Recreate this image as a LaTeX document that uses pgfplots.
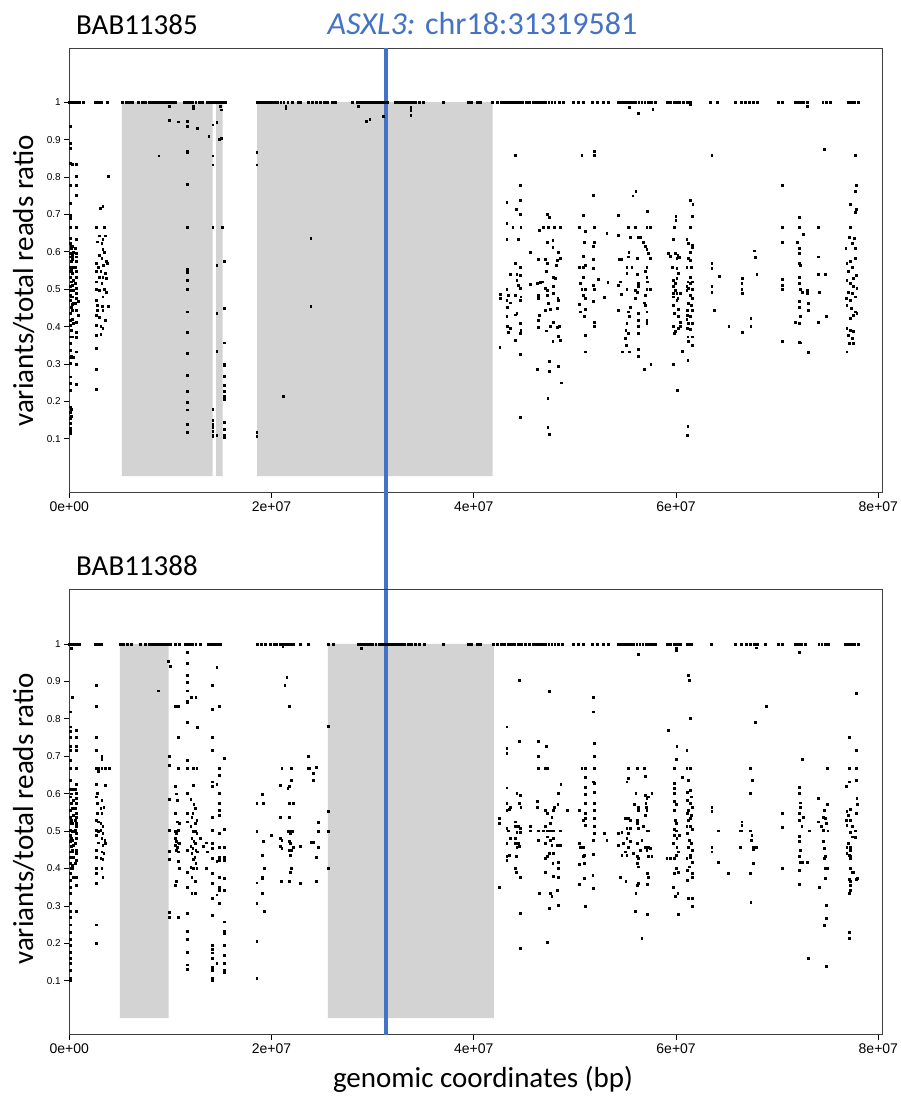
\documentclass[border=0pt]{standalone}
\usepackage{pgfplots}
\pgfplotsset{compat=1.18}
\usepackage{fontspec}
\setmainfont{Liberation Sans}
\newfontfamily\calib{Carlito}
\definecolor{graybox}{HTML}{D3D3D3}
\definecolor{asxl}{HTML}{4472C4}
\pgfplotsset{
  panel/.style={
    scale only axis, width=812.7pt,
    xmin=0, xmax=80.36, ymin=-0.044, ymax=1.145,
    xtick={0,20,40,60,80},
    xticklabels={0e+00,2e+07,4e+07,6e+07,8e+07},
    ytick={0.1,0.2,0.3,0.4,0.5,0.6,0.7,0.8,0.9,1},
    yticklabels={0.1,0.2,0.3,0.4,0.5,0.6,0.7,0.8,0.9,1},
    xtick pos=bottom, ytick pos=left,
    tick align=outside, major tick length=5pt,
    tick style={black, line width=0.7pt},
    axis line style={black!75, line width=0.9pt},
    xticklabel style={font=\fontsize{14}{16}\selectfont},
    yticklabel style={font=\fontsize{10}{12}\selectfont},
    clip marker paths=false,
  },
  pts/.style={only marks, mark=square*, mark size=0.95pt, black, mark options={draw=none, fill=black}},
  gbox/.style={fill=graybox, draw=none},
  vline/.style={asxl, line width=3.2pt},
}
\begin{document}
\begin{tikzpicture}
\path[use as bounding box] (0,0) rectangle (901pt,1103pt);
% ---------------- top panel BAB11385 ----------------
\begin{axis}[panel, height=444.7pt, at={(69.3pt,610.3pt)}, anchor=south west, clip=false]
\addplot[gbox] coordinates {(5.21,0) (5.21,1) (14.18,1) (14.18,0) (5.21,0)};
\addplot[gbox] coordinates {(14.51,0) (14.51,1) (15.17,1) (15.17,0) (14.51,0)};
\addplot[gbox] coordinates {(18.56,0) (18.56,1) (41.87,1) (41.87,0) (18.56,0)};
\addplot[pts] coordinates {
(0.0,1) (0.1,1) (0.2,1) (0.3,1) (0.45,1) (0.6,1) (0.8,1) (1.0,1) (1.35,1)
(2.55,1) (2.7,1) (2.85,1) (3.0,1) (3.2,1) (3.73,1)
(5.25,1) (5.6,1) (5.9,1) (6.2,1)
(6.8,1) (7.2,1) (7.5,1) (7.9,1) (8.2,1) (8.5,1) (8.8,1) (9.1,1) (9.3,1) (9.6,1) (9.9,1) (10.2,1) (10.5,1)
(11.4,1) (11.6,1) (11.8,1) (12.0,1) (12.2,1) (12.5,1) (12.8,1) (13.1,1)
(13.6,1) (13.9,1) (14.1,1) (14.3,1) (14.6,1) (14.9,1) (15.1,1) (15.4,1)
(18.6,1) (18.8,1) (19.0,1) (19.2,1) (19.5,1) (19.7,1) (19.9,1) (20.1,1) (20.3,1) (20.6,1) (20.9,1) (21.2,1) (21.6,1) (22.0,1)
(22.6,1) (22.8,1) (23.6,1) (24.0,1) (24.4,1) (24.8,1) (25.2,1) (25.5,1) (26.0,1) (26.3,1) (27.96,1)
(28.5,1) (28.8,1) (29.0,1) (29.2,1) (29.4,1) (29.6,1) (29.8,1) (30.0,1) (30.2,1) (30.4,1) (30.6,1) (30.9,1) (31.2,1) (31.4,1)
(32.2,1) (32.5,1) (32.8,1) (33.1,1) (33.4,1) (33.6,1) (33.9,1) (34.2,1) (34.6,1) (35.0,1) (36.95,1)
(39.4,1) (39.7,1) (40.3,1) (40.6,1)
(41.8,1) (42.3,1) (42.7,1) (43.0,1) (43.3,1) (43.6,1) (43.9,1) (44.2,1) (44.5,1) (44.8,1) (45.2,1) (45.5,1) (45.9,1) (46.2,1) (46.5,1) (46.8,1) (47.1,1) (47.4,1) (47.7,1) (48.0,1) (48.4,1) (48.8,1)
(49.8,1) (50.3,1) (50.8,1) (51.7,1) (52.2,1) (52.8,1) (53.3,1)
(54.3,1) (54.6,1) (54.9,1) (55.2,1) (55.4,1) (55.7,1) (56.0,1) (56.3,1) (56.6,1) (56.9,1) (57.2,1) (57.5,1) (57.9,1)
(59.1,1) (59.4,1) (59.8,1) (60.0,1) (60.3,1) (60.7,1) (61.1,1) (61.4,1)
(63.4,1) (64.1,1) (65.8,1) (66.4,1) (66.8,1) (67.2,1) (67.6,1) (68.0,1) (70.1,1) (70.5,1)
(71.8,1) (72.1,1) (72.4,1) (72.6,1) (72.95,1) (74.5,1) (74.8,1) (75.2,1) (77.0,1) (77.3,1) (77.6,1) (78.0,1)
(9.89,0.99) (12.26,0.99) (12.26,0.984) (21.4,0.99) (21.4,0.985) (28.58,0.99) (33.76,0.986) (33.76,0.979) (33.76,0.965)
(31.0,0.963) (29.4,0.95) (29.7,0.954) (55.35,0.987) (56.27,0.97) (57.69,0.981) (72.92,0.989) (61.38,0.995)
(0.05,0.935) (0.08,0.89) (0.05,0.877) (0.1,0.837) (0.05,0.779) (0.08,0.73) (0.05,0.698) (0.12,0.69) (0.05,0.667) (0.1,0.636)
(0.05,0.623) (0.15,0.614) (0.05,0.596) (0.1,0.587) (0.2,0.574) (0.05,0.56) (0.12,0.547) (0.05,0.533) (0.18,0.52) (0.08,0.507)
(0.05,0.498) (0.12,0.484) (0.05,0.471) (0.2,0.453) (0.05,0.435) (0.1,0.417) (0.05,0.404) (0.15,0.391) (0.05,0.373) (0.1,0.355)
(0.05,0.337) (0.08,0.319) (0.05,0.302) (0.1,0.266) (0.05,0.248) (0.08,0.23) (0.12,0.186) (0.05,0.172) (0.1,0.154) (0.05,0.141)
(0.08,0.128) (0.05,0.114) (0.25,0.59) (0.22,0.55) (0.28,0.51) (0.2,0.48) (0.3,0.46) (0.25,0.42) (0.15,0.32) (0.2,0.18) (0.15,0.16) (0.1,0.12)
(0.2,0.61) (0.3,0.58)
(0.33,0.835) (0.33,0.614) (0.35,0.599) (0.33,0.587) (0.38,0.56) (0.33,0.542) (0.36,0.525) (0.33,0.511) (0.4,0.498) (0.33,0.48)
(0.36,0.462) (0.33,0.444) (0.38,0.409) (0.33,0.373) (0.35,0.319)
(0.66,0.835) (0.66,0.801) (0.66,0.779) (0.66,0.751) (0.66,0.667) (0.66,0.634) (0.62,0.609) (0.66,0.596) (0.7,0.587) (0.66,0.574)
(0.62,0.56) (0.7,0.547) (0.66,0.533) (0.62,0.516) (0.68,0.502) (0.66,0.489) (0.7,0.475) (0.62,0.462) (0.66,0.444) (0.7,0.413)
(0.66,0.386) (0.68,0.371) (0.66,0.333) (0.66,0.3) (0.66,0.246) (0.89,0.467) (0.89,0.431)
(3.86,0.801) (3.03,0.716) (3.3,0.721) (2.64,0.667) (3.46,0.667) (2.93,0.643) (3.59,0.643) (3.3,0.634) (2.77,0.627) (3.2,0.623)
(3.3,0.607) (3.43,0.6) (2.97,0.591) (3.2,0.582) (3.63,0.574) (2.7,0.569) (2.87,0.56) (3.36,0.565) (3.76,0.569) (2.7,0.547)
(3.1,0.547) (3.53,0.544) (2.97,0.533) (3.3,0.533) (3.63,0.529) (2.64,0.52) (3.2,0.516) (2.7,0.5) (2.97,0.498) (3.43,0.5)
(3.63,0.493) (3.3,0.48) (2.77,0.458) (3.23,0.455) (2.77,0.444) (3.3,0.444) (3.89,0.455) (2.7,0.431) (2.64,0.404) (3.1,0.4)
(3.3,0.395) (2.64,0.376) (3.1,0.38) (2.7,0.342) (2.7,0.285) (2.7,0.232) (2.97,0.426) (3.53,0.417) (2.64,0.471)
(11.67,0.95) (11.67,0.935) (11.67,0.87) (11.67,0.865) (11.67,0.78) (11.67,0.667) (11.67,0.555) (11.67,0.55) (11.67,0.545) (11.67,0.525)
(11.67,0.5) (11.67,0.44) (11.67,0.385) (11.67,0.33) (11.67,0.27) (11.67,0.228) (11.67,0.198) (11.67,0.178) (11.67,0.14) (11.67,0.118)
(8.84,0.857) (9.89,0.953) (10.8,0.948) (12.66,0.93) (13.78,0.91)
(14.18,0.94) (14.18,0.857) (14.18,0.833) (14.18,0.667) (14.18,0.18) (14.18,0.15) (14.18,0.138) (14.18,0.13) (14.18,0.12) (14.18,0.11) (14.18,0.107)
(14.57,0.947) (14.57,0.565) (14.57,0.436) (14.57,0.335) (14.57,0.11)
(14.9,0.99) (15.0,0.98) (14.85,0.9) (15.0,0.905) (15.1,0.667) (15.33,0.575)
(15.33,0.45) (15.33,0.357) (15.33,0.3) (15.33,0.296) (15.33,0.267) (15.33,0.243) (15.33,0.228) (15.33,0.215) (15.33,0.205) (15.33,0.145)
(15.33,0.125) (15.33,0.11) (15.33,0.105)
(18.53,0.867) (18.53,0.833) (18.53,0.117) (18.53,0.107) (23.87,0.636) (23.87,0.455) (21.13,0.213)
(44.07,0.858) (44.57,0.778) (43.25,0.732) (44.57,0.738) (44.17,0.714) (44.57,0.700) (43.25,0.676) (43.84,0.667) (44.63,0.667) (43.25,0.634)
(44.40,0.634) (44.07,0.569) (44.57,0.560) (43.58,0.541) (44.24,0.541) (44.57,0.538) (44.24,0.524) (44.40,0.511) (44.57,0.502) (43.25,0.500)
(44.07,0.485) (42.59,0.487) (43.42,0.485) (42.59,0.476) (43.25,0.471) (43.58,0.464) (43.32,0.453) (43.25,0.428) (44.07,0.432) (44.24,0.436)
(44.57,0.409) (44.63,0.480) (44.57,0.471) (43.32,0.400) (43.58,0.397) (43.42,0.384) (44.07,0.364) (44.57,0.382) (44.63,0.391) (42.56,0.344)
(44.57,0.327) (44.57,0.158)
(47.21,0.700) (47.47,0.692) (46.48,0.658) (46.88,0.667) (47.37,0.667) (47.93,0.667) (48.52,0.667) (47.21,0.625) (47.80,0.631) (47.80,0.612)
(48.36,0.600) (45.56,0.600) (46.38,0.580) (47.04,0.580) (47.21,0.569) (48.52,0.584) (48.13,0.565) (48.20,0.578) (47.14,0.547) (47.87,0.532)
(48.03,0.529) (45.56,0.514) (46.28,0.517) (46.81,0.520) (47.04,0.502) (47.21,0.498) (47.87,0.509) (46.38,0.485) (47.21,0.485) (48.29,0.477)
(47.87,0.489) (46.38,0.476) (47.37,0.462) (47.04,0.444) (47.54,0.446) (48.20,0.449) (48.36,0.471) (46.48,0.431) (46.38,0.416) (46.38,0.398)
(47.14,0.389) (47.54,0.400) (47.87,0.413) (48.20,0.398) (48.46,0.400) (47.80,0.360) (48.52,0.364) (48.36,0.375) (46.31,0.286) (47.47,0.308)
(47.47,0.282) (48.36,0.295) (48.62,0.250) (47.30,0.209) (47.30,0.130) (47.47,0.112) (46.55,0.518)
(50.67,0.858) (51.92,0.870) (51.92,0.858) (51.82,0.752) (50.83,0.698) (50.44,0.667) (51.92,0.667) (51.0,0.654) (53.14,0.649) (50.93,0.625)
(51.92,0.625) (51.82,0.615) (50.83,0.589) (51.0,0.565) (50.83,0.560) (51.82,0.580) (51.82,0.556) (50.44,0.560) (52.32,0.526) (50.83,0.532)
(50.50,0.516) (50.67,0.500) (51.0,0.500) (51.82,0.511) (51.89,0.500) (53.24,0.518) (50.83,0.485) (51.0,0.476) (50.44,0.460) (51.0,0.446)
(50.50,0.440) (51.82,0.467) (50.93,0.427) (51.89,0.413) (51.89,0.400) (51.0,0.378) (51.0,0.333) (52.88,0.478)
(54.29,0.698) (55.71,0.750) (56.01,0.762) (57.16,0.709) (55.28,0.667) (55.94,0.667) (57.09,0.667) (57.42,0.667) (54.29,0.645) (55.45,0.638)
(56.27,0.638) (56.50,0.638) (56.77,0.625) (56.93,0.615) (57.09,0.606) (57.26,0.596) (55.31,0.600) (55.28,0.587) (56.11,0.584) (57.42,0.584)
(54.62,0.580) (54.39,0.580) (55.12,0.560) (55.61,0.560) (55.12,0.542) (56.11,0.541) (57.09,0.560) (56.93,0.547) (57.09,0.533) (54.46,0.520)
(54.29,0.511) (55.12,0.500) (55.94,0.498) (56.27,0.507) (57.09,0.500) (57.42,0.500) (56.93,0.485) (54.56,0.487) (56.11,0.491) (56.21,0.516)
(57.16,0.520) (55.94,0.476) (54.29,0.444) (55.45,0.453) (55.28,0.440) (55.35,0.427) (55.12,0.409) (56.21,0.436) (56.27,0.418) (56.27,0.400)
(56.27,0.382) (56.83,0.464) (56.93,0.458) (57.09,0.440) (57.09,0.418) (57.09,0.409) (55.02,0.391) (55.28,0.382) (54.95,0.369) (55.05,0.351)
(54.69,0.333) (55.35,0.333) (56.21,0.339) (56.27,0.322) (56.83,0.286) (57.49,0.300)
(59.96,0.696) (59.96,0.685) (59.80,0.667) (59.73,0.634) (61.38,0.738) (61.64,0.728) (61.55,0.696) (61.38,0.667) (61.05,0.634) (61.22,0.622)
(61.55,0.618) (61.55,0.612) (59.24,0.596) (59.40,0.589) (59.90,0.596) (60.16,0.592) (60.06,0.582) (60.29,0.585) (61.38,0.600) (61.22,0.582)
(59.57,0.560) (60.06,0.556) (60.23,0.542) (60.06,0.529) (61.05,0.560) (61.38,0.578) (61.45,0.560) (61.38,0.533) (61.15,0.520) (61.55,0.520)
(59.73,0.509) (59.90,0.498) (60.06,0.489) (61.05,0.509) (61.22,0.502) (61.55,0.500) (59.73,0.480) (60.16,0.476) (61.38,0.485) (61.55,0.477)
(59.67,0.525) (59.90,0.516) (59.67,0.489) (60.39,0.489) (60.06,0.471) (59.73,0.458) (60.23,0.446) (59.80,0.436) (60.23,0.427) (59.73,0.400)
(59.90,0.387) (60.39,0.400) (60.39,0.413) (60.23,0.396) (59.80,0.382) (61.38,0.516) (61.05,0.498) (61.22,0.462) (61.45,0.458) (61.12,0.444)
(61.55,0.444) (61.12,0.431) (61.38,0.428) (61.05,0.420) (61.22,0.409) (61.55,0.409) (61.38,0.393) (61.12,0.396) (61.15,0.373) (61.55,0.373)
(61.22,0.360) (61.58,0.351) (60.56,0.335) (61.15,0.311) (59.73,0.300) (60.13,0.231) (61.15,0.133) (61.08,0.109)
(63.52,0.858) (63.52,0.569) (63.52,0.556) (64.25,0.536) (63.52,0.507) (63.52,0.493) (63.75,0.444)
(67.74,0.603) (67.84,0.585) (67.97,0.541) (66.52,0.529) (66.49,0.516) (66.49,0.500) (66.56,0.489) (67.38,0.422) (67.38,0.400) (66.56,0.385) (65.2,0.400)
(70.45,0.778) (70.45,0.667) (70.45,0.625) (72.19,0.692) (72.19,0.667) (72.59,0.646) (71.93,0.625) (72.19,0.609) (72.19,0.596) (72.19,0.569)
(72.26,0.565) (72.19,0.533) (72.19,0.516) (72.26,0.500) (72.49,0.493) (72.98,0.498) (72.98,0.489) (70.51,0.526) (70.51,0.511) (70.51,0.500)
(72.19,0.467) (72.19,0.453) (73.08,0.462) (73.02,0.443) (72.26,0.428) (72.19,0.409) (71.76,0.411) (72.19,0.358) (72.32,0.357) (73.02,0.331) (70.45,0.360)
(74.63,0.874) (74.07,0.667) (74.07,0.587) (74.07,0.541) (74.73,0.541) (74.17,0.493) (74.07,0.411) (74.83,0.428)
(77.70,0.858) (77.80,0.778) (77.70,0.762) (77.20,0.728) (77.80,0.713) (77.70,0.705) (77.20,0.667) (77.14,0.638) (77.63,0.636) (77.37,0.622)
(77.70,0.609) (76.77,0.609) (77.20,0.574) (77.70,0.582) (76.87,0.569) (77.37,0.560) (77.04,0.547) (77.80,0.538) (77.53,0.529) (76.87,0.524)
(77.20,0.516) (77.53,0.507) (77.86,0.502) (77.04,0.493) (77.37,0.489) (77.70,0.480) (76.81,0.476) (77.20,0.471) (76.87,0.458) (77.30,0.449)
(77.70,0.440) (77.86,0.436) (77.20,0.422) (77.53,0.431) (76.87,0.396) (77.20,0.391) (77.53,0.387) (77.04,0.378) (77.37,0.369) (77.14,0.355)
(77.53,0.355) (76.87,0.333)
};
\addplot[vline] coordinates {(31.32,-0.303) (31.32,1.145)};
\end{axis}
% ---------------- bottom panel BAB11388 ----------------
\begin{axis}[panel, height=445pt, at={(69.3pt,68.3pt)}, anchor=south west, clip=false]
\addplot[gbox] coordinates {(5.01,0) (5.01,1) (9.83,1) (9.83,0) (5.01,0)};
\addplot[gbox] coordinates {(25.58,0) (25.58,1) (41.97,1) (41.97,0) (25.58,0)};
\addplot[pts] coordinates {
(0.0,1) (0.15,1) (0.3,1) (0.5,1) (0.7,1) (1.0,1) (2.55,1) (2.75,1) (2.95,1) (3.15,1)
(5.0,1) (5.3,1) (5.7,1) (6.1,1) (7.0,1) (7.5,1) (7.9,1) (8.2,1) (8.5,1) (8.8,1) (9.1,1) (9.4,1) (9.7,1) (9.95,1)
(10.5,1) (10.9,1) (11.5,1) (11.8,1) (12.0,1) (12.2,1) (12.5,1) (12.9,1) (13.7,1) (14.0,1) (14.3,1) (14.6,1) (14.9,1)
(18.6,1) (19.0,1) (19.4,1) (19.9,1) (20.3,1) (20.5,1) (20.8,1) (21.0,1) (21.2,1) (21.4,1) (21.6,1) (21.8,1) (22.1,1)
(22.8,1) (23.6,1) (25.6,1) (26.1,1)
(28.6,1) (28.8,1) (29.0,1) (29.2,1) (29.4,1) (29.6,1) (29.8,1) (30.0,1) (30.3,1) (30.6,1) (30.9,1) (31.2,1) (31.4,1)
(31.6,1) (31.9,1) (32.2,1) (32.5,1) (32.8,1) (33.1,1) (33.5,1) (33.8,1) (34.2,1) (34.6,1) (35.1,1) (36.95,1)
(39.4,1) (39.7,1) (40.3,1) (40.6,1)
(41.9,1) (42.3,1) (42.7,1) (43.0,1) (43.4,1) (43.7,1) (44.0,1) (44.4,1) (44.7,1) (45.1,1) (45.5,1) (45.9,1) (46.2,1) (46.5,1) (46.8,1) (47.1,1) (47.4,1) (47.7,1) (48.0,1) (48.3,1) (48.7,1)
(49.8,1) (50.3,1) (50.8,1) (51.7,1) (52.2,1) (52.8,1) (53.3,1)
(54.3,1) (54.6,1) (54.9,1) (55.2,1) (55.5,1) (55.8,1) (56.1,1) (56.4,1) (56.7,1) (57.0,1) (57.3,1) (57.6,1) (57.9,1)
(59.1,1) (59.4,1) (59.8,1) (60.1,1) (60.4,1) (61.1,1) (61.3,1) (61.5,1) (63.5,1)
(65.8,1) (66.4,1) (66.9,1) (67.3,1) (67.7,1) (68.0,1) (68.8,1) (70.1,1) (70.5,1)
(71.8,1) (72.1,1) (72.4,1) (72.75,1) (74.1,1) (74.4,1) (74.7,1) (75.0,1) (76.7,1) (77.0,1) (77.3,1) (77.6,1) (78.0,1)
(0.2,0.988) (28.9,0.988) (21.1,0.993) (67.9,0.99)
(0.26,0.857) (0.05,0.819) (0.08,0.779) (0.05,0.766) (0.1,0.752) (0.05,0.727) (0.08,0.715) (0.05,0.69) (0.12,0.668) (0.05,0.636)
(0.1,0.611) (0.05,0.592) (0.15,0.574) (0.05,0.556) (0.1,0.538) (0.2,0.52) (0.05,0.503) (0.12,0.489) (0.05,0.474) (0.18,0.46)
(0.05,0.445) (0.1,0.431) (0.05,0.414) (0.15,0.4) (0.05,0.387) (0.1,0.369) (0.05,0.351) (0.08,0.333) (0.05,0.307) (0.1,0.286)
(0.05,0.269) (0.08,0.25) (0.05,0.231) (0.1,0.21) (0.05,0.195) (0.08,0.177) (0.05,0.16) (0.1,0.146) (0.05,0.128) (0.08,0.108) (0.05,0.102)
(0.22,0.6) (0.25,0.56) (0.2,0.53) (0.28,0.5) (0.22,0.48) (0.3,0.45) (0.25,0.41)
(0.66,0.77) (0.66,0.75) (0.66,0.727) (0.66,0.715) (0.66,0.668) (0.66,0.626) (0.62,0.611) (0.66,0.601) (0.7,0.587) (0.66,0.574)
(0.62,0.561) (0.7,0.547) (0.66,0.538) (0.62,0.529) (0.7,0.52) (0.66,0.512) (0.62,0.503) (0.7,0.494) (0.66,0.48) (0.62,0.467)
(0.66,0.449) (0.7,0.44) (0.66,0.422) (0.62,0.414) (0.66,0.378) (0.66,0.356) (0.66,0.286)
(0.33,0.611) (0.35,0.583) (0.33,0.561) (0.38,0.543) (0.33,0.52) (0.36,0.5) (0.33,0.476) (0.38,0.462) (0.33,0.445) (0.36,0.431) (0.33,0.4) (0.35,0.378)
(2.64,0.889) (2.64,0.834) (2.64,0.75) (2.64,0.715) (3.2,0.701) (3.2,0.692) (2.64,0.668) (2.87,0.668) (3.2,0.668) (3.53,0.668)
(3.92,0.668) (2.9,0.659) (2.64,0.626) (3.59,0.623) (2.75,0.601) (2.64,0.592) (2.75,0.574) (3.2,0.583) (3.4,0.565) (3.1,0.561)
(2.75,0.547) (3.2,0.547) (2.64,0.529) (2.9,0.525) (3.1,0.52) (3.3,0.512) (2.64,0.503) (2.87,0.5) (3.1,0.503) (3.3,0.494)
(2.64,0.489) (3.2,0.48) (3.5,0.476) (2.87,0.469) (3.3,0.462) (3.59,0.467) (2.64,0.449) (3.2,0.445) (3.4,0.44) (2.64,0.431)
(3.1,0.427) (3.3,0.424) (2.64,0.4) (3.2,0.4) (2.64,0.387) (3.3,0.378) (2.64,0.36) (2.64,0.25) (2.64,0.2)
(8.83,0.875) (9.75,0.955) (9.95,0.94)
(9.89,0.701) (9.89,0.677) (9.89,0.585) (9.89,0.503) (9.89,0.447) (9.89,0.424) (9.89,0.284) (9.89,0.269)
(10.45,0.834) (10.78,0.834) (10.78,0.75) (10.78,0.668) (10.5,0.62) (10.61,0.6) (10.7,0.583) (10.5,0.547) (10.7,0.525) (10.84,0.52)
(10.5,0.5) (10.61,0.494) (10.78,0.503) (10.45,0.48) (10.61,0.474) (10.78,0.469) (10.5,0.462) (10.7,0.458) (10.84,0.467) (10.61,0.449)
(10.78,0.445) (10.78,0.42) (10.84,0.4) (10.61,0.365) (10.5,0.355) (10.78,0.27)
(11.67,0.977) (11.67,0.948) (11.67,0.917) (11.67,0.898) (11.67,0.875) (11.67,0.848) (11.67,0.843) (12.03,0.857) (12.5,0.857) (11.67,0.79)
(12.69,0.777) (11.67,0.69) (11.67,0.668) (12.26,0.668) (12.6,0.668) (12.26,0.623) (11.67,0.601) (11.67,0.547) (11.67,0.525) (11.67,0.449)
(11.67,0.391) (11.67,0.351) (11.67,0.28) (11.67,0.233) (11.67,0.21) (11.67,0.177) (11.67,0.143) (11.67,0.13)
(12.0,0.585) (12.3,0.572) (12.43,0.561) (12.2,0.547) (12.1,0.538) (12.6,0.529) (12.43,0.52) (12.0,0.512) (12.26,0.5) (12.5,0.5)
(12.6,0.494) (12.1,0.48) (12.3,0.474) (12.43,0.467) (12.0,0.46) (12.2,0.454) (12.5,0.449) (12.69,0.445) (12.1,0.44) (12.4,0.431)
(12.26,0.424) (12.5,0.414) (12.0,0.403) (12.26,0.4) (12.6,0.4) (12.1,0.378) (12.43,0.367) (12.1,0.333) (12.43,0.333) (12.9,0.48) (13.2,0.46)
(14.17,0.889) (14.17,0.825) (14.17,0.75) (14.17,0.715) (14.17,0.632) (14.1,0.62) (14.17,0.538) (14.17,0.503) (14.17,0.467) (14.17,0.454)
(14.17,0.427) (14.17,0.387) (14.17,0.36) (14.17,0.32) (14.17,0.275) (14.17,0.195) (14.17,0.185) (14.17,0.175) (14.17,0.16) (14.17,0.137)
(14.17,0.128) (14.17,0.106) (14.17,0.102)
(14.57,0.939) (14.57,0.626) (14.57,0.146) (14.57,0.42) (14.57,0.33)
(14.8,0.834) (14.8,0.668) (14.8,0.65) (14.8,0.601) (14.8,0.574) (14.8,0.556) (14.8,0.543) (14.8,0.494) (14.8,0.458) (14.8,0.431)
(14.8,0.422) (14.8,0.378) (14.8,0.351) (14.8,0.342) (14.8,0.307)
(15.33,0.694) (15.33,0.504) (15.33,0.458) (15.33,0.431) (15.33,0.422) (15.33,0.373) (15.33,0.342) (15.33,0.258) (15.33,0.233) (15.33,0.226)
(15.33,0.195) (15.33,0.168) (15.33,0.146) (15.33,0.128) (15.33,0.122) (13.58,0.469) (13.65,0.445) (13.58,0.4)
(19.03,0.598) (18.53,0.574) (19.2,0.574) (18.53,0.5) (19.2,0.474) (19.03,0.436) (19.29,0.4) (19.03,0.378) (19.03,0.373) (18.53,0.362)
(19.1,0.333) (18.53,0.308) (19.29,0.286) (18.53,0.207) (18.53,0.108)
(20.0,0.489) (20.84,0.623) (20.84,0.536) (20.84,0.48) (20.84,0.46) (21.0,0.668) (21.0,0.476) (21.0,0.454) (21.0,0.367) (21.5,0.911)
(21.3,0.889) (21.73,0.834) (21.9,0.668) (21.9,0.636) (21.6,0.614) (21.73,0.619) (21.73,0.574) (22.1,0.574) (21.73,0.536) (21.6,0.5)
(21.8,0.5) (22.0,0.5) (21.85,0.494) (21.85,0.467) (21.7,0.474) (22.1,0.458) (21.73,0.449) (21.9,0.449) (21.85,0.436) (21.9,0.4)
(21.8,0.389) (20.9,0.365) (21.73,0.365) (22.82,0.36) (22.82,0.46) (23.74,0.668)
(23.64,0.70) (23.64,0.667) (24.13,0.655) (24.45,0.67) (24.13,0.636) (24.62,0.524) (24.62,0.5) (24.13,0.47) (24.62,0.458) (24.45,0.43)
(24.45,0.365) (23.9,0.47) (25.58,0.78) (25.58,0.554) (25.58,0.5) (25.58,0.4)
(44.50,0.902) (43.25,0.779) (43.25,0.721) (43.25,0.708) (44.50,0.739) (43.25,0.616) (44.24,0.601) (44.57,0.596) (44.50,0.574) (44.63,0.565)
(43.25,0.574) (43.58,0.565) (43.25,0.556) (43.52,0.558) (42.53,0.534) (42.53,0.521) (44.07,0.525) (44.07,0.512) (44.40,0.512) (44.57,0.507)
(44.24,0.498) (44.57,0.498) (43.25,0.507) (43.42,0.501) (43.58,0.481) (43.25,0.467) (44.07,0.481) (44.07,0.467) (44.40,0.467) (44.50,0.460)
(44.24,0.458) (43.25,0.432) (43.52,0.436) (43.25,0.423) (44.17,0.433) (44.07,0.400) (44.17,0.391) (44.57,0.378) (42.49,0.349) (44.57,0.280) (44.57,0.188)
(47.41,0.874) (46.38,0.739) (46.38,0.701) (47.14,0.728) (46.38,0.668) (47.04,0.668) (47.21,0.668) (48.59,0.626) (48.36,0.601) (46.28,0.581)
(46.28,0.563) (47.04,0.556) (47.21,0.547) (47.87,0.556) (47.70,0.537) (48.29,0.572) (47.96,0.565) (45.56,0.512) (45.56,0.501) (46.38,0.501)
(46.88,0.501) (47.21,0.501) (47.54,0.501) (47.87,0.501) (48.52,0.501) (47.04,0.512) (47.54,0.521) (47.21,0.485) (47.54,0.476) (47.87,0.481)
(47.70,0.463) (48.20,0.463) (48.52,0.463) (46.38,0.476) (47.04,0.427) (47.47,0.442) (47.21,0.433) (47.04,0.467) (47.87,0.440) (47.80,0.414)
(48.36,0.418) (48.36,0.400) (47.04,0.391) (47.87,0.380) (48.36,0.376) (48.20,0.342) (46.48,0.333) (47.54,0.333) (47.70,0.325) (48.36,0.302)
(47.47,0.293) (47.27,0.204)
(51.82,0.857) (51.82,0.819) (51.92,0.736) (51.92,0.701) (50.67,0.668) (51.0,0.668) (51.92,0.668) (51.0,0.643) (51.82,0.632) (51.92,0.628)
(51.0,0.617) (51.0,0.599) (51.92,0.603) (51.0,0.574) (51.92,0.574) (51.89,0.556) (51.0,0.547) (51.89,0.534) (50.44,0.556) (49.25,0.556)
(51.0,0.534) (50.83,0.530) (51.0,0.516) (51.89,0.512) (51.89,0.494) (51.82,0.476) (52.91,0.494) (53.14,0.476) (50.44,0.467) (50.50,0.458)
(50.83,0.458) (50.83,0.432) (51.82,0.439) (50.93,0.436) (50.44,0.412) (50.93,0.414) (51.75,0.383) (51.82,0.347) (50.93,0.374) (50.44,0.358) (51.0,0.300)
(56.27,0.973) (55.28,0.668) (56.11,0.668) (56.86,0.668) (56.93,0.647) (55.28,0.641) (55.12,0.632) (56.01,0.601) (57.26,0.592) (57.59,0.601)
(55.88,0.572) (56.93,0.596) (57.09,0.587) (56.27,0.565) (56.27,0.556) (56.99,0.574) (57.03,0.565) (57.09,0.556) (56.93,0.543) (54.95,0.534)
(55.28,0.534) (55.45,0.530) (56.11,0.530) (56.11,0.522) (55.12,0.507) (55.28,0.494) (55.45,0.507) (54.62,0.498) (54.29,0.494) (56.27,0.507)
(56.77,0.512) (57.09,0.501) (57.26,0.501) (55.12,0.481) (55.45,0.474) (54.79,0.467) (54.29,0.463) (55.28,0.458) (56.11,0.467) (56.60,0.476)
(56.93,0.458) (57.09,0.449) (57.26,0.458) (57.42,0.454) (54.95,0.445) (55.12,0.436) (56.44,0.449) (56.11,0.433) (57.26,0.433) (57.59,0.433)
(59.07,0.427) (55.78,0.440) (54.62,0.436) (56.21,0.427) (56.11,0.414) (56.27,0.405) (57.16,0.387) (57.23,0.376) (54.46,0.378) (55.02,0.365)
(56.11,0.356) (56.27,0.360) (57.16,0.358) (56.01,0.333) (55.94,0.286) (57.16,0.278) (56.60,0.213)
(59.99,0.988) (59.99,0.984) (61.22,0.917) (61.31,0.904) (61.38,0.801) (59.24,0.770) (60.06,0.728) (59.99,0.693) (61.05,0.715) (59.80,0.668)
(61.05,0.668) (61.38,0.668) (60.56,0.643) (59.80,0.629) (59.80,0.614) (59.80,0.601) (61.22,0.636) (61.12,0.605) (61.38,0.610) (61.45,0.592)
(61.12,0.583) (61.38,0.574) (61.55,0.565) (61.22,0.556) (61.12,0.547) (61.45,0.543) (61.38,0.534) (59.80,0.581) (59.99,0.572) (59.80,0.556)
(59.90,0.530) (59.99,0.521) (59.80,0.505) (59.99,0.501) (59.80,0.489) (60.06,0.481) (60.33,0.489) (59.73,0.467) (60.06,0.458) (60.23,0.445)
(59.99,0.436) (59.40,0.427) (61.22,0.530) (61.05,0.512) (61.38,0.512) (61.55,0.505) (61.12,0.494) (61.31,0.476) (61.45,0.467) (61.22,0.458)
(61.55,0.449) (61.38,0.436) (61.05,0.427) (59.80,0.427) (59.99,0.400) (60.23,0.391) (59.80,0.387) (59.73,0.351) (60.16,0.333) (59.93,0.325)
(60.23,0.278) (61.38,0.431) (61.55,0.418) (61.31,0.405) (61.12,0.396) (61.55,0.387) (61.55,0.376) (61.12,0.369) (61.22,0.320) (61.61,0.320) (61.61,0.300)
(63.52,0.565) (63.52,0.552) (64.18,0.501) (63.52,0.458) (63.52,0.445) (64.18,0.418) (65.17,0.387)
(68.90,0.834) (67.81,0.790) (67.31,0.668) (67.54,0.636) (67.31,0.601) (66.49,0.525) (66.49,0.516) (66.49,0.501) (66.33,0.501) (67.31,0.501)
(67.48,0.489) (67.41,0.476) (67.64,0.458) (67.91,0.458) (66.33,0.458) (67.58,0.451) (67.64,0.414) (67.31,0.387) (67.38,0.311)
(72.19,0.977) (72.49,0.693) (72.19,0.617) (72.19,0.601) (72.26,0.576) (72.26,0.565) (72.19,0.547) (72.59,0.537) (72.19,0.528) (72.42,0.512)
(72.19,0.487) (72.19,0.474) (72.26,0.448) (72.19,0.433) (70.51,0.547) (70.51,0.510) (73.15,0.501) (72.26,0.418) (72.52,0.416) (72.92,0.416)
(72.19,0.396) (72.19,0.358) (73.02,0.160) (70.51,0.400)
(74.96,0.668) (74.07,0.587) (74.96,0.572) (74.63,0.555) (74.57,0.538) (74.73,0.534) (74.07,0.525) (74.83,0.521) (74.33,0.512) (74.57,0.503)
(74.99,0.501) (74.57,0.472) (74.63,0.454) (74.73,0.432) (74.63,0.427) (74.73,0.400) (74.99,0.400) (74.73,0.374) (74.17,0.351) (74.83,0.301)
(74.83,0.267) (74.63,0.249) (74.83,0.139)
(77.80,0.868) (77.14,0.752) (77.80,0.715) (77.14,0.668) (77.80,0.668) (77.14,0.632) (77.80,0.636) (76.81,0.620) (77.86,0.587) (77.93,0.572)
(77.20,0.558) (76.87,0.552) (77.04,0.543) (77.80,0.547) (77.20,0.530) (76.81,0.530) (76.87,0.516) (77.37,0.514) (77.70,0.501) (77.20,0.498)
(77.37,0.485) (77.70,0.483) (77.04,0.467) (77.20,0.458) (76.87,0.458) (77.20,0.449) (77.14,0.436) (77.20,0.432) (76.87,0.440) (77.20,0.427)
(77.20,0.400) (77.37,0.390) (77.53,0.390) (77.14,0.371) (77.80,0.371) (77.93,0.374) (77.20,0.365) (77.20,0.356) (77.20,0.342) (77.14,0.333)
(77.14,0.231) (77.14,0.213)
};
\addplot[vline] coordinates {(31.32,-0.044) (31.32,1.145)};
\end{axis}
% ---------------- texts ----------------
\node[anchor=base, inner sep=0pt, text=asxl] at (482.5pt,1068pt) {\calib\fontsize{32}{38}\selectfont\textit{ASXL3:} chr18:31319581};
\node[anchor=base west, inner sep=0pt] at (76pt,1068pt) {\calib\fontsize{29}{34}\selectfont BAB11385};
\node[anchor=base west, inner sep=0pt] at (76pt,527pt) {\calib\fontsize{29}{34}\selectfont BAB11388};
\node[anchor=base, inner sep=0pt, rotate=90] at (33pt,822pt) {\calib\fontsize{29}{34}\selectfont variants/total reads ratio};
\node[anchor=base, inner sep=0pt, rotate=90] at (33pt,284pt) {\calib\fontsize{29}{34}\selectfont variants/total reads ratio};
\node[anchor=base, inner sep=0pt] at (483pt,15pt) {\calib\fontsize{29}{34}\selectfont genomic coordinates (bp)};
\end{tikzpicture}
\end{document}
